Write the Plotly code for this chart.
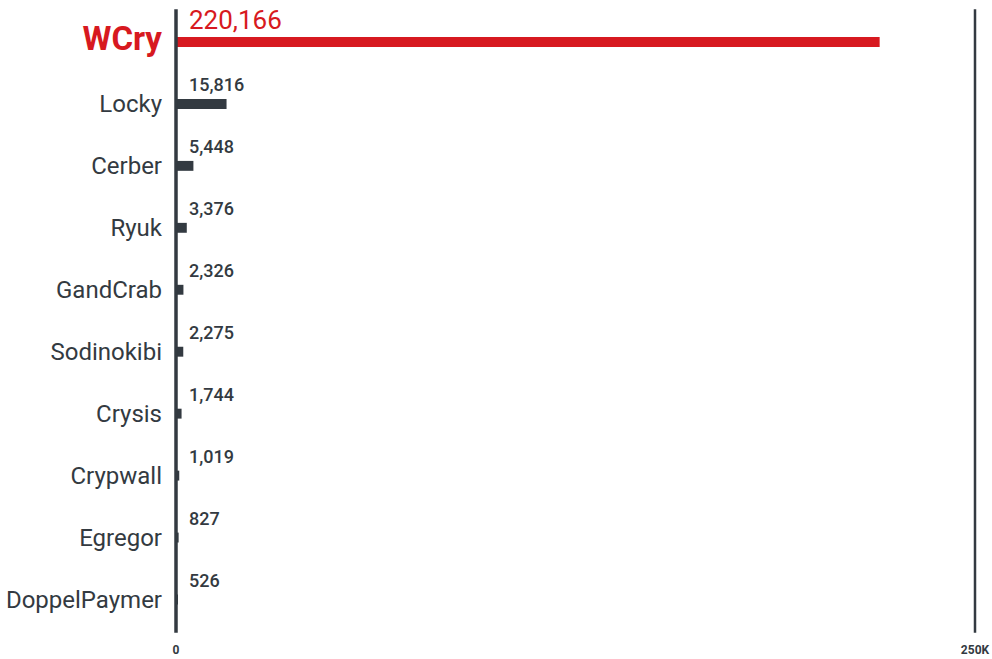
import plotly.graph_objects as go

families = ["WCry", "Locky", "Cerber", "Ryuk", "GandCrab", "Sodinokibi",
            "Crysis", "Crypwall", "Egregor", "DoppelPaymer"]
counts = [220166, 15816, 5448, 3376, 2326, 2275, 1744, 1019, 827, 526]
x_ticks = [0, 250000]
x_tick_text = ["0", "250K"]

RED = "#d71920"
DARK = "#333a41"
FONT = "Roboto"

bar_colors = [RED] + [DARK] * (len(families) - 1)

fig = go.Figure(go.Bar(
    x=counts, y=families, orientation="h",
    marker=dict(color=bar_colors, line=dict(width=0)),
    hoverinfo="skip",
))

# category labels: the top family is highlighted
tick_text = []
for i, name in enumerate(families):
    if i == 0:
        tick_text.append(f"<span style='color:{RED};font-size:33px'><b>{name}</b></span>")
    else:
        tick_text.append(name)

# value labels sit above each bar, starting just right of the axis
for i, (name, v) in enumerate(zip(families, counts)):
    top = i == 0
    fig.add_annotation(
        x=0, y=name, xref="x", yref="y",
        text=f"{v:,}", showarrow=False,
        xanchor="left", yanchor="middle",
        xshift=11, yshift=22 if top else 19,
        font=dict(family=FONT, size=26 if top else 18, color=RED if top else DARK,
                  weight=400 if top else 500),
    )

# vertical reference lines at both ends of the value axis (paper-anchored so they are not clipped)
for xp, w in zip([0, 1], [3.5, 2.5]):
    fig.add_shape(type="line", xref="paper", yref="paper", x0=xp, x1=xp, y0=-0.003, y1=1.003,
                  line=dict(color=DARK, width=w), layer="above")

fig.update_layout(
    width=992, height=659,
    margin=dict(l=176, r=17, t=11, b=28),
    paper_bgcolor="white", plot_bgcolor="white",
    bargap=0.84,
    showlegend=False,
    font=dict(family=FONT, color=DARK),
    xaxis=dict(
        range=[0, 250000], tickvals=x_ticks, ticktext=x_tick_text,
        showgrid=False, zeroline=False, showline=False, ticks="",
        ticklabelstandoff=10, automargin=False,
        tickfont=dict(family=FONT, size=12, color=DARK, weight="bold"),
        fixedrange=True,
    ),
    yaxis=dict(
        categoryorder="array", categoryarray=families, autorange="reversed",
        tickvals=families, ticktext=tick_text,
        tickfont=dict(family=FONT, size=24, color=DARK, weight=400),
        showgrid=False, showline=False, zeroline=False, ticks="",
        ticklabelstandoff=13, automargin=False, fixedrange=True,
    ),
)

fig.write_html("out.html")
